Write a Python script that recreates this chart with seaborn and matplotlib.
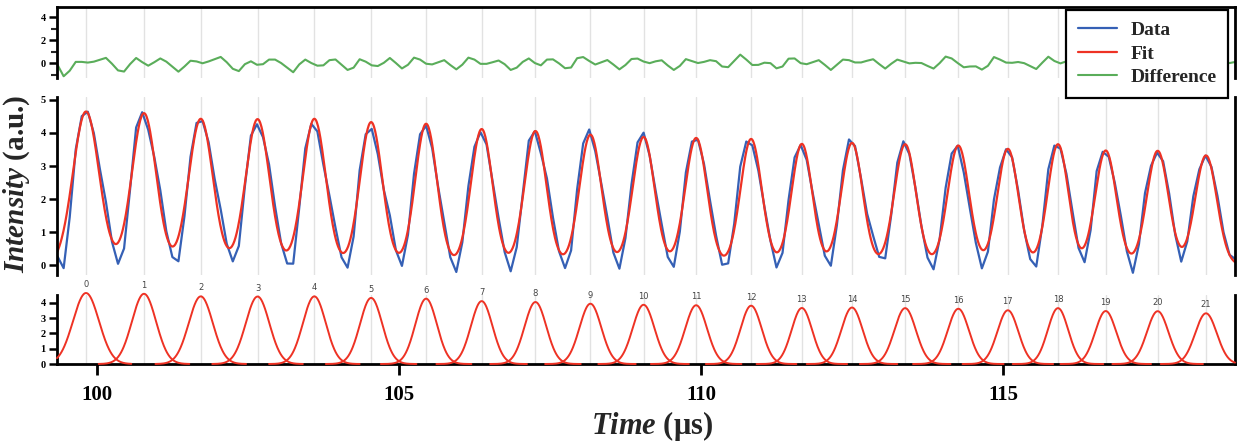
import numpy as np
import pandas as pd
import matplotlib
matplotlib.use('Agg')
import matplotlib.pyplot as plt
import seaborn as sns

# fitted gaussian components (centre in us, height, width)
PEAK_T = [99.82, 100.78, 101.72, 102.66, 103.60, 104.54, 105.45, 106.37, 107.26, 108.17, 109.05,
          109.92, 110.83, 111.67, 112.50, 113.38, 114.26, 115.08, 115.91, 116.70, 117.56, 118.36]
PEAK_A = [4.65, 4.60, 4.43, 4.42, 4.43, 4.33, 4.28, 4.12, 4.06, 3.95, 3.88,
          3.85, 3.82, 3.67, 3.70, 3.66, 3.62, 3.52, 3.66, 3.47, 3.46, 3.32]
PEAK_W = [0.215, 0.200, 0.199, 0.195, 0.189, 0.184, 0.179, 0.178, 0.180, 0.180, 0.180,
          0.180, 0.175, 0.170, 0.176, 0.178, 0.176, 0.173, 0.170, 0.174, 0.178, 0.179]
PEAK_LABELS = [str(i) for i in range(len(PEAK_T))]

# difference (data - fit), sampled every 0.1 us from 99.35 us
T0, T_STEP = 99.35, 0.1
DIFF = [-0.17, -1.15, -0.67, 0.10, 0.10, 0.04, 0.12, 0.28, 0.45, -0.06,
        -0.64, -0.74, -0.09, 0.44, 0.08, -0.23, 0.07, 0.40, 0.12, -0.32,
        -0.75, -0.30, 0.20, 0.14, -0.02, 0.14, 0.33, 0.53, 0.07, -0.50,
        -0.70, -0.10, 0.15, -0.15, -0.10, 0.30, 0.30, 0.00, -0.40, -0.80,
        -0.12, 0.30, 0.00, -0.23, -0.20, 0.25, 0.31, -0.15, -0.60, -0.40,
        0.33, 0.12, -0.20, -0.26, 0.02, 0.44, 0.00, -0.47, -0.15, 0.47,
        0.30, -0.06, -0.12, 0.07, 0.25, -0.17, -0.55, -0.14, 0.47, 0.30,
        -0.07, -0.07, 0.07, 0.22, -0.10, -0.60, -0.40, 0.10, 0.40, 0.00,
        -0.20, 0.30, 0.32, -0.03, -0.45, -0.39, 0.42, 0.52, 0.18, -0.13,
        0.07, 0.26, -0.13, -0.55, -0.17, 0.35, 0.39, 0.13, -0.01, 0.15,
        0.24, -0.21, -0.60, -0.25, 0.34, 0.17, 0.00, 0.10, 0.25, 0.16,
        -0.30, -0.36, 0.18, 0.73, 0.30, -0.17, -0.16, 0.03, -0.01, -0.46,
        -0.30, 0.38, 0.40, -0.01, -0.10, 0.08, 0.25, -0.16, -0.60, -0.15,
        0.30, 0.25, 0.05, 0.05, 0.20, 0.33, -0.09, -0.48, -0.06, 0.30,
        0.14, -0.03, 0.02, 0.00, -0.25, -0.48, -0.01, 0.56, 0.40, 0.00,
        -0.37, -0.30, -0.29, -0.57, -0.24, 0.52, 0.30, 0.04, 0.02, 0.09,
        -0.01, -0.27, -0.52, 0.03, 0.55, 0.18, -0.03, 0.15, 0.25, -0.10,
        -0.50, -0.20, 0.45, 0.10, -0.05, 0.10, 0.25, -0.10, -0.60, -0.15,
        0.45, 0.15, -0.05, 0.10, 0.20, -0.05, -0.45, -0.10, 0.40, 0.15,
        0.00, 0.05, 0.20, 0.10, 0.00, 0.10]

X_TICKS = [100, 105, 110, 115]
XLIM = (99.34, 118.84)

BLUE, RED, GREEN = '#3560b5', '#ee3224', '#5aad5a'


def gauss(t, c, a, w):
    return a * np.exp(-(t - c) ** 2 / (2 * w ** 2))


def fit_curve(t):
    return sum(gauss(t, c, a, w) for c, a, w in zip(PEAK_T, PEAK_A, PEAK_W))


t_data = T0 + T_STEP * np.arange(len(DIFF))
diff = np.array(DIFF)
data = fit_curve(t_data) + diff

t_fit = np.linspace(XLIM[0], XLIM[1], 2000)
fit = fit_curve(t_fit)

rows = []
for i, (c, a, w) in enumerate(zip(PEAK_T, PEAK_A, PEAK_W)):
    tt = np.linspace(max(c - 0.75, XLIM[0]), min(c + 0.75, XLIM[1]), 200)
    rows.append(pd.DataFrame({'t': tt, 'y': gauss(tt, c, a, w), 'peak': i}))
comp_df = pd.concat(rows, ignore_index=True)

sns.set_theme(style='white')
plt.rcParams.update({
    'font.family': 'serif',
    'font.serif': ['Liberation Serif', 'DejaVu Serif'],
    'font.weight': 'bold',
    'mathtext.fontset': 'custom',
    'mathtext.rm': 'Liberation Serif:bold',
    'mathtext.bf': 'Liberation Serif:bold',
    'mathtext.bfit': 'Liberation Serif:italic:bold',
})

W, H = 1246, 442
fig = plt.figure(figsize=(W / 100, H / 100), dpi=100)
left, width = 57 / W, (1235 - 57) / W
ax_top = fig.add_axes([left, 1 - 78 / H, width, 71 / H])
ax_mid = fig.add_axes([left, 1 - 275 / H, width, 178 / H])
ax_bot = fig.add_axes([left, 1 - 364 / H, width, 69 / H])

sns.lineplot(x=t_data, y=diff, color=GREEN, lw=1.5, ax=ax_top, label='Difference')
sns.lineplot(x=t_data, y=data, color=BLUE, lw=1.6, ax=ax_mid, label='Data')
sns.lineplot(x=t_fit, y=fit, color=RED, lw=1.6, ax=ax_mid, label='Fit')
sns.lineplot(data=comp_df, x='t', y='y', units='peak', estimator=None, color=RED,
             lw=1.4, ax=ax_bot, legend=False, zorder=3, clip_on=False)

h_diff = ax_top.lines[0]
h_data, h_fit = ax_mid.lines[0], ax_mid.lines[1]

ax_top.set_ylim(-1.3, 4.87)
ax_top.set_yticks([0, 2, 4])
ax_top.set_yticks([-1, 1, 3], minor=True)
ax_mid.set_ylim(-0.3, 5.09)
ax_mid.set_yticks([0, 1, 2, 3, 4, 5])
ax_bot.set_ylim(0, 4.52)
ax_bot.set_yticks([0, 1, 2, 3, 4])

for ax in (ax_top, ax_mid, ax_bot):
    ax.set_xlim(*XLIM)
    if ax.get_legend() is not None:
        ax.get_legend().remove()
    ax.set_xlabel('')
    ax.set_ylabel('')
    ax.set_xticks(PEAK_T, minor=True)
    ax.grid(False, which='major')
    ax.grid(True, which='minor', axis='x', color='#e2e2e2', lw=1.0)
    ax.set_axisbelow(True)
    for s in ax.spines.values():
        s.set_linewidth(2.0)
        s.set_color('black')
    ax.tick_params(axis='y', which='major', left=True, direction='out', length=6,
                   width=1.8, labelsize=7.5, pad=2, colors='black')
    ax.tick_params(axis='y', which='minor', left=True, direction='out', length=4, width=1.5)
    ax.tick_params(axis='x', which='minor', length=0, bottom=False)

ax_top.spines['bottom'].set_visible(False)
ax_mid.spines['top'].set_visible(False)
ax_mid.spines['bottom'].set_visible(False)
ax_bot.spines['top'].set_visible(False)

for ax in (ax_top, ax_mid):
    ax.set_xticks([])
    ax.set_xticks(PEAK_T, minor=True)
    ax.tick_params(axis='x', which='both', bottom=False, labelbottom=False)

ax_bot.set_xticks(X_TICKS)
ax_bot.set_xticklabels([str(x) for x in X_TICKS])
ax_bot.tick_params(axis='x', which='major', bottom=True, direction='out', length=8,
                   width=2, labelsize=15, pad=7, colors='black')

for lab, c, a in zip(PEAK_LABELS, PEAK_T, PEAK_A):
    ax_bot.text(c, a + 0.55, lab, ha='center', va='center', fontsize=6, color='#444444',
                family='DejaVu Sans', fontweight='normal', clip_on=False)

fig.text(652 / W, 1 - 426 / H, r'$\mathbfit{Time}$ (μs)', ha='center', va='center',
         fontsize=22, fontweight='bold')
fig.text(17 / W, 1 - 184 / H, r'$\mathbfit{Intensity}$ (a.u.)', ha='center', va='center',
         rotation=90, fontsize=21, fontweight='bold')

leg = fig.legend([h_data, h_fit, h_diff], ['Data', 'Fit', 'Difference'], loc='upper right',
                 bbox_to_anchor=(1228 / W, 1 - 10 / H), borderaxespad=0, frameon=True,
                 fancybox=False, edgecolor='black', framealpha=1, handlelength=2.0,
                 handletextpad=0.7, labelspacing=0.3, borderpad=0.6,
                 prop={'family': 'serif', 'weight': 'bold', 'size': 14})
leg.get_frame().set_linewidth(1.6)

fig.savefig('out.png', dpi=100)
